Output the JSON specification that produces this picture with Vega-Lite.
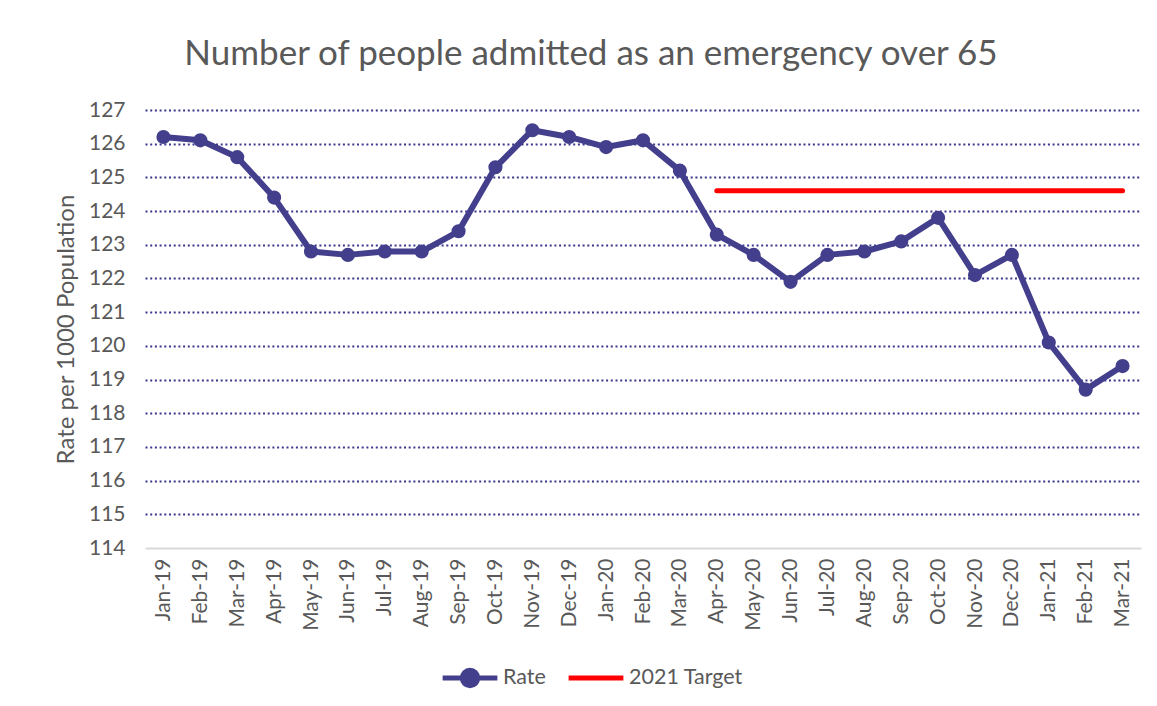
{
  "$schema": "https://vega.github.io/schema/vega-lite/v6.json",
  "autosize": {"type": "none"},
  "width": 996,
  "height": 438,
  "padding": {"left": 145, "top": 110, "right": 16, "bottom": 158},
  "background": "white",
  "title": {
    "text": "Number of people admitted as an emergency over 65",
    "font": "Lato",
    "fontSize": 35,
    "fontWeight": "normal",
    "color": "#595959",
    "anchor": "middle",
    "dx": -52,
    "offset": 27
  },
  "data": {
    "values": [
      {"month": "Jan-19", "Rate": 126.2, "Target": null},
      {"month": "Feb-19", "Rate": 126.1, "Target": null},
      {"month": "Mar-19", "Rate": 125.6, "Target": null},
      {"month": "Apr-19", "Rate": 124.4, "Target": null},
      {"month": "May-19", "Rate": 122.8, "Target": null},
      {"month": "Jun-19", "Rate": 122.7, "Target": null},
      {"month": "Jul-19", "Rate": 122.8, "Target": null},
      {"month": "Aug-19", "Rate": 122.8, "Target": null},
      {"month": "Sep-19", "Rate": 123.4, "Target": null},
      {"month": "Oct-19", "Rate": 125.3, "Target": null},
      {"month": "Nov-19", "Rate": 126.4, "Target": null},
      {"month": "Dec-19", "Rate": 126.2, "Target": null},
      {"month": "Jan-20", "Rate": 125.9, "Target": null},
      {"month": "Feb-20", "Rate": 126.1, "Target": null},
      {"month": "Mar-20", "Rate": 125.2, "Target": null},
      {"month": "Apr-20", "Rate": 123.3, "Target": 124.6},
      {"month": "May-20", "Rate": 122.7, "Target": 124.6},
      {"month": "Jun-20", "Rate": 121.9, "Target": 124.6},
      {"month": "Jul-20", "Rate": 122.7, "Target": 124.6},
      {"month": "Aug-20", "Rate": 122.8, "Target": 124.6},
      {"month": "Sep-20", "Rate": 123.1, "Target": 124.6},
      {"month": "Oct-20", "Rate": 123.8, "Target": 124.6},
      {"month": "Nov-20", "Rate": 122.1, "Target": 124.6},
      {"month": "Dec-20", "Rate": 122.7, "Target": 124.6},
      {"month": "Jan-21", "Rate": 120.1, "Target": 124.6},
      {"month": "Feb-21", "Rate": 118.7, "Target": 124.6},
      {"month": "Mar-21", "Rate": 119.4, "Target": 124.6}
    ]
  },
  "encoding": {
    "x": {
      "field": "month",
      "type": "ordinal",
      "sort": null,
      "scale": {"type": "point", "padding": 0.5},
      "axis": {
        "title": null,
        "labelAngle": -90,
        "labelFont": "Lato",
        "labelFontSize": 21,
        "labelColor": "#595959",
        "labelPadding": 10,
        "ticks": false,
        "domain": true,
        "domainColor": "#d9d9d9",
        "domainWidth": 2,
        "grid": false
      }
    }
  },
  "layer": [
    {
      "mark": {"type": "line", "strokeWidth": 5, "strokeCap": "round"},
      "encoding": {
        "y": {
          "field": "Target",
          "type": "quantitative",
          "scale": {"domain": [114, 127], "nice": false, "zero": false},
          "axis": {
            "title": "Rate per 1000 Population",
            "titleFont": "Lato",
            "titleFontSize": 24,
            "titleFontWeight": "normal",
            "titleColor": "#595959",
            "titlePadding": 10,
            "values": [114,115,116,117,118,119,120,121,122,123,124,125,126,127],
            "labelOverlap": false,
            "labelFont": "Lato",
            "labelFontSize": 21,
            "labelColor": "#595959",
            "labelPadding": 20,
            "ticks": false,
            "domain": false,
            "grid": true,
            "gridColor": {"condition": {"test": "datum.value == 114", "value": "transparent"}, "value": "#3a378c"},
            "gridDash": [2, 2.7],
            "gridWidth": 2
          }
        },
        "color": {
          "datum": "2021 Target",
          "scale": {"domain": ["Rate", "2021 Target"], "range": ["#433f8c", "#ff0000"]},
          "legend": {
            "title": null,
            "orient": "none",
            "legendX": 295,
            "legendY": 553,
            "direction": "horizontal",
            "labelFont": "Lato",
            "labelFontSize": 21.5,
            "labelColor": "#595959",
            "labelOffset": 3,
            "columnPadding": 20,
            "clipHeight": 30,
            "symbolSize": 3000,
            "symbolStrokeWidth": 5,
            "symbolType": "M-1,0H1",
            "encode": {
              "symbols": {
                "update": {
                  "shape": {"signal": "datum.value === 'Rate' ? 'M-1,0H1M-0.28,0A0.28,0.28 0 1,1 0.28,0A0.28,0.28 0 1,1 -0.28,0Z' : 'M-1,0H1'"},
                  "fill": {"signal": "datum.value === 'Rate' ? '#433f8c' : 'transparent'"},
                  "stroke": {"signal": "datum.value === 'Rate' ? '#433f8c' : '#ff0000'"},
                  "strokeWidth": {"value": 5},
                  "opacity": {"value": 1}
                }
              }
            }
          }
        }
      }
    },
    {
      "mark": {"type": "line", "strokeWidth": 6, "strokeJoin": "round"},
      "encoding": {
        "y": {
          "field": "Rate",
          "type": "quantitative",
          "axis": {
            "title": "Rate per 1000 Population",
            "titleFont": "Lato",
            "titleFontSize": 24,
            "titleFontWeight": "normal",
            "titleColor": "#595959",
            "titlePadding": 10,
            "values": [114,115,116,117,118,119,120,121,122,123,124,125,126,127],
            "labelOverlap": false,
            "labelFont": "Lato",
            "labelFontSize": 21,
            "labelColor": "#595959",
            "labelPadding": 20,
            "ticks": false,
            "domain": false,
            "grid": true,
            "gridColor": {"condition": {"test": "datum.value == 114", "value": "transparent"}, "value": "#3a378c"},
            "gridDash": [2, 2.7],
            "gridWidth": 2
          }
        },
        "color": {"datum": "Rate"}
      }
    },
    {
      "mark": {"type": "point", "filled": true, "opacity": 1, "size": 200},
      "encoding": {
        "y": {
          "field": "Rate",
          "type": "quantitative",
          "axis": {
            "title": "Rate per 1000 Population",
            "titleFont": "Lato",
            "titleFontSize": 24,
            "titleFontWeight": "normal",
            "titleColor": "#595959",
            "titlePadding": 10,
            "values": [114,115,116,117,118,119,120,121,122,123,124,125,126,127],
            "labelOverlap": false,
            "labelFont": "Lato",
            "labelFontSize": 21,
            "labelColor": "#595959",
            "labelPadding": 20,
            "ticks": false,
            "domain": false,
            "grid": true,
            "gridColor": {"condition": {"test": "datum.value == 114", "value": "transparent"}, "value": "#3a378c"},
            "gridDash": [2, 2.7],
            "gridWidth": 2
          }
        },
        "color": {"datum": "Rate", "legend": null}
      }
    }
  ],
  "config": {"view": {"stroke": null}}
}
